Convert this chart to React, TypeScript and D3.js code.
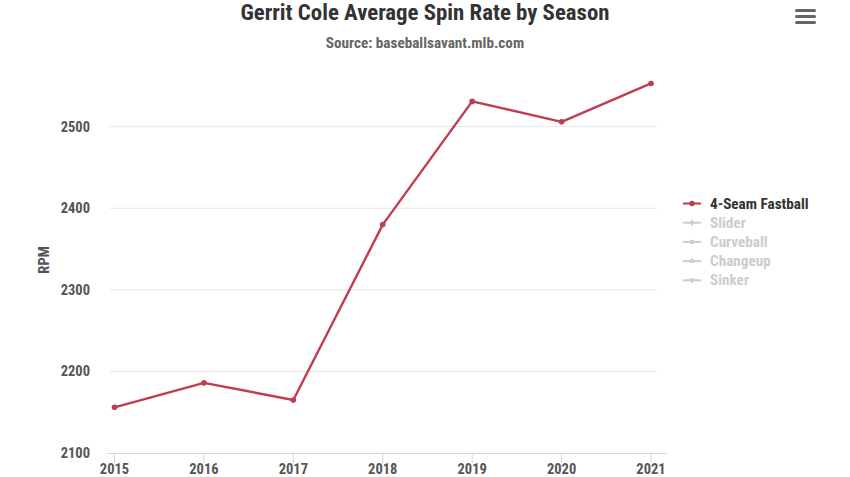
import React from "react";
import * as d3 from "d3";

const years = [2015, 2016, 2017, 2018, 2019, 2020, 2021];
const fastball = [2156, 2186, 2165, 2380, 2531, 2506, 2553];
const yTicks = [2100, 2200, 2300, 2400, 2500];
const legendItems = ["4-Seam Fastball", "Slider", "Curveball", "Changeup", "Sinker"];

const W = 850;
const H = 477;
const FONT = "'Roboto Condensed', 'Liberation Sans Narrow', 'Arial Narrow', Roboto, sans-serif";

const symbols = [d3.symbolCircle, d3.symbolDiamond, d3.symbolSquare, d3.symbolTriangle, d3.symbolTriangle];

export default function App() {
  const x = d3.scaleLinear().domain([2015, 2021]).range([114.5, 651]);
  const y = d3.scaleLinear().domain([2100, 2500]).range([453, 126.7]);
  const line = d3
    .line<number>()
    .x((_, i) => x(years[i]))
    .y((d) => y(d));
  const red = "#c23b4f";

  return (
    <svg
      width={W}
      height={H}
      style={{ position: "absolute", left: 0, top: 0, background: "#fff" }}
      fontFamily={FONT}
    >
      <rect width={W} height={H} fill="#fff" />
      <text x={425} y={20} textAnchor="middle" fontSize={22.8} fontWeight="bold" fill="#333">
        Gerrit Cole Average Spin Rate by Season
      </text>
      <text x={425} y={48} textAnchor="middle" fontSize={15.2} fontWeight="bold" fill="#666">
        Source: baseballsavant.mlb.com
      </text>

      {/* menu icon */}
      {[0, 1, 2].map((i) => (
        <rect key={i} x={795} y={9 + i * 6} width={21} height={3} rx={1.5} fill="#666" />
      ))}

      {/* gridlines */}
      {yTicks.slice(1).map((t) => (
        <line key={t} x1={110} x2={657} y1={y(t)} y2={y(t)} stroke="#e6e6e6" strokeWidth={1} />
      ))}
      {yTicks.map((t) => (
        <text
          key={"l" + t}
          x={90}
          y={y(t) + 5}
          textAnchor="end"
          fontSize={14.5}
          fontWeight="bold"
          fill="#555"
        >
          {t}
        </text>
      ))}
      <text
        transform={`translate(49,260) rotate(-90)`}
        textAnchor="middle"
        fontSize={14.5}
        fontWeight="bold"
        fill="#555"
      >
        RPM
      </text>

      {/* x axis */}
      <line x1={107} x2={667} y1={y(2100) + 0.5} y2={y(2100) + 0.5} stroke="#ccd6eb" strokeWidth={1} />
      {years.map((yr) => (
        <g key={yr}>
          <line x1={x(yr)} x2={x(yr)} y1={y(2100)} y2={y(2100) + 10} stroke="#ccd6eb" />
          <text x={x(yr)} y={y(2100) + 21} textAnchor="middle" fontSize={14.5} fontWeight="bold" fill="#555">
            {yr}
          </text>
        </g>
      ))}

      {/* series */}
      <path d={line(fastball) || ""} fill="none" stroke={red} strokeWidth={2.4} strokeLinejoin="round" />
      {fastball.map((v, i) => (
        <circle key={i} cx={x(years[i])} cy={y(v)} r={2.8} fill={red} />
      ))}

      {/* legend */}
      {legendItems.map((name, i) => {
        const ly = 203.5 + i * 19.2;
        const col = i === 0 ? red : "#ccc";
        const sym = d3.symbol().type(symbols[i]).size(i === 0 ? 22 : 16)();
        return (
          <g key={name}>
            <line x1={683} x2={701} y1={ly} y2={ly} stroke={col} strokeWidth={2} />
            <path
              d={sym || ""}
              transform={`translate(692,${ly})${i === 4 ? " rotate(180)" : ""}`}
              fill={col}
            />
            <text x={710} y={ly + 5} fontSize={15.2} fontWeight="bold" fill={i === 0 ? "#333" : "#ccc"}>
              {name}
            </text>
          </g>
        );
      })}
    </svg>
  );
}
